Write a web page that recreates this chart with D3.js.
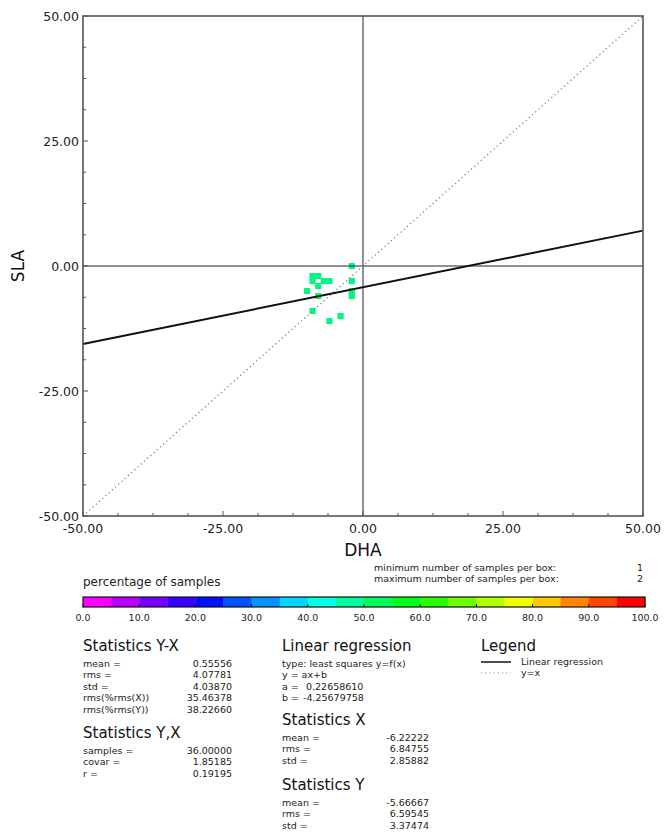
<!DOCTYPE html>
<html><head><meta charset="utf-8">
<script src="https://cdn.jsdelivr.net/npm/d3@7/dist/d3.min.js"></script>
<style>body{margin:0;background:#fff;}svg{display:block;font-family:"DejaVu Sans",Verdana,sans-serif;}</style>
</head><body>
<svg id="c" width="664" height="833"></svg>
<script>
// ---- data ----
const axisTicks = [-50, -25, 0, 25, 50];
const minorStep = 6.25;
const cellX = [-2, -9, -8, -9, -7, -6, -8, -10, -8, -2, -2, -2, -9, -6, -4];
const cellY = [0, -2, -2, -3, -3, -3, -4, -5, -6, -3, -5, -6, -9, -11, -10];
const regA = 0.22658610, regB = -4.25679758;
const pctTicks = [0, 10, 20, 30, 40, 50, 60, 70, 80, 90, 100];
const pctSegments = d3.range(20);
const statsYXLabels = ["mean =", "rms =", "std =", "rms(%rms(X))", "rms(%rms(Y))"];
const statsYXValues = ["0.55556", "4.07781", "4.03870", "35.46378", "38.22660"];
const statsCorrLabels = ["samples =", "covar =", "r ="];
const statsCorrValues = ["36.00000", "1.85185", "0.19195"];
const regLines = ["type: least squares y=f(x)", "y = ax+b"];
const regCoefLabels = ["a =", "b ="];
const regCoefValues = ["0.22658610", "-4.25679758"];
const statsXLabels = ["mean =", "rms =", "std ="];
const statsXValues = ["-6.22222", "6.84755", "2.85882"];
const statsYValues = ["-5.66667", "6.59545", "3.37474"];
const boxLabels = ["minimum number of samples per box:", "maximum number of samples per box:"];
const boxValues = ["1", "2"];
const legendItems = ["Linear regression", "y=x"];

// ---- chart ----
const svg = d3.select("#c");
const L = 83, R = 643, T = 16, B = 516;
const x = d3.scaleLinear().domain([-50, 50]).range([L, R]);
const y = d3.scaleLinear().domain([-50, 50]).range([B, T]);
const fmt = v => d3.format(".2f")(v).replace("\u2212", "-");

// cells
svg.append("g").selectAll("rect").data(cellX.map((d, i) => [d, cellY[i]])).join("rect")
  .attr("x", d => x(d[0] - 0.5) - 0.3).attr("y", d => y(d[1] + 0.5) - 0.5)
  .attr("width", d => x(d[0] + 0.5) - x(d[0] - 0.5) + 0.6)
  .attr("height", d => y(d[1] - 0.5) - y(d[1] + 0.5) + 1)
  .attr("fill", "#00f882");

// zero lines
svg.append("line").attr("x1", x(0)).attr("x2", x(0)).attr("y1", T).attr("y2", B).attr("stroke", "#222").attr("stroke-width", 1);
svg.append("line").attr("x1", L).attr("x2", R).attr("y1", y(0)).attr("y2", y(0)).attr("stroke", "#222").attr("stroke-width", 1);

// y = x dotted
svg.append("line").attr("x1", x(-50)).attr("y1", y(-50)).attr("x2", x(50)).attr("y2", y(50))
  .attr("stroke", "#888").attr("stroke-width", 1.3).attr("stroke-dasharray", "1.3,3");

// regression line
svg.append("line").attr("x1", x(-50)).attr("y1", y(regA * -50 + regB)).attr("x2", x(50)).attr("y2", y(regA * 50 + regB))
  .attr("stroke", "#111").attr("stroke-width", 2);

// frame
svg.append("rect").attr("x", L).attr("y", T).attr("width", R - L).attr("height", B - T)
  .attr("fill", "none").attr("stroke", "#555").attr("stroke-width", 1.6);

// axes ticks (inward)
const allTicks = d3.range(-50, 50.01, minorStep);
svg.append("g").selectAll("line").data(allTicks).join("line")
  .attr("x1", d => x(d)).attr("x2", d => x(d)).attr("y1", B)
  .attr("y2", d => B - (d % 25 === 0 ? 5 : 3)).attr("stroke", "#555").attr("stroke-width", 1);
svg.append("g").selectAll("line").data(allTicks).join("line")
  .attr("y1", d => y(d)).attr("y2", d => y(d)).attr("x1", L)
  .attr("x2", d => L + (d % 25 === 0 ? 5 : 3)).attr("stroke", "#555").attr("stroke-width", 1);

// tick labels
svg.append("g").selectAll("text").data(axisTicks).join("text")
  .attr("x", d => x(d)).attr("y", B + 17).attr("text-anchor", "middle")
  .attr("font-size", 12.5).attr("fill", "#222").text(d => fmt(d));
svg.append("g").selectAll("text").data(axisTicks).join("text")
  .attr("x", L - 4).attr("y", d => y(d) + 5).attr("text-anchor", "end")
  .attr("font-size", 12.5).attr("fill", "#222").text(d => fmt(d));

// axis titles
svg.append("text").attr("x", x(0)).attr("y", 556).attr("text-anchor", "middle").attr("font-size", 17).attr("fill", "#111").text("DHA");
svg.append("text").attr("transform", `translate(24,${y(0)}) rotate(-90)`).attr("text-anchor", "middle").attr("font-size", 17).attr("fill", "#111").text("SLA");

// colorbar header
svg.append("text").attr("x", L).attr("y", 586).attr("font-size", 12).attr("fill", "#222").text("percentage of samples");
svg.append("g").selectAll("text").data(boxLabels).join("text")
  .attr("x", 374).attr("y", (d, i) => 571 + i * 11).attr("font-size", 9.5).attr("fill", "#222").text(d => d);
svg.append("g").selectAll("text").data(boxValues).join("text")
  .attr("x", 643).attr("y", (d, i) => 571 + i * 11).attr("text-anchor", "end").attr("font-size", 9.5).attr("fill", "#222").text(d => d);

// colorbar
const cx = d3.scaleLinear().domain([0, 100]).range([L, 645]);
const cbT = 597, cbH = 10;
svg.append("g").selectAll("rect").data(pctSegments).join("rect")
  .attr("x", i => cx(i * 5)).attr("y", cbT).attr("width", cx(5) - cx(0) + 0.3).attr("height", cbH)
  .attr("fill", i => d3.hsl(300 * (1 - i / 19), 1, 0.5).formatHex());
svg.append("rect").attr("x", cx(0)).attr("y", cbT).attr("width", cx(100) - cx(0)).attr("height", cbH)
  .attr("fill", "none").attr("stroke", "#111").attr("stroke-width", 1.2);
svg.append("g").selectAll("line").data(pctTicks).join("line")
  .attr("x1", d => cx(d)).attr("x2", d => cx(d)).attr("y1", cbT + cbH).attr("y2", cbT + cbH - 3)
  .attr("stroke", "#111").attr("stroke-width", 1);
svg.append("g").selectAll("text").data(pctTicks).join("text")
  .attr("x", d => cx(d)).attr("y", 621).attr("text-anchor", "middle").attr("font-size", 9.5).attr("fill", "#222")
  .text(d => d.toFixed(1));

// stats blocks
function block(x0, titleY, title, labels, values, valX, lineY0) {
  svg.append("text").attr("x", x0).attr("y", titleY).attr("font-size", 15).attr("fill", "#111").text(title);
  svg.append("g").selectAll("text").data(labels).join("text")
    .attr("x", x0).attr("y", (d, i) => lineY0 + i * 11.4).attr("font-size", 9.5).attr("fill", "#222").text(d => d);
  svg.append("g").selectAll("text").data(values).join("text")
    .attr("x", valX).attr("y", (d, i) => lineY0 + i * 11.4).attr("text-anchor", "end").attr("font-size", 9.5).attr("fill", "#222").text(d => d);
}
block(83, 651, "Statistics Y-X", statsYXLabels, statsYXValues, 232, 667);
block(83, 738, "Statistics Y,X", statsCorrLabels, statsCorrValues, 232, 754);
block(282, 725, "Statistics X", statsXLabels, statsXValues, 429, 741);
block(282, 790, "Statistics Y", statsXLabels, statsYValues, 429, 806);

// linear regression block
svg.append("text").attr("x", 282).attr("y", 651).attr("font-size", 15).attr("fill", "#111").text("Linear regression");
svg.append("g").selectAll("text").data(regLines).join("text")
  .attr("x", 282).attr("y", (d, i) => 667 + i * 11.4).attr("font-size", 9.5).attr("fill", "#222").text(d => d);
svg.append("g").selectAll("text").data(regCoefLabels).join("text")
  .attr("x", 282).attr("y", (d, i) => 667 + (i + 2) * 11.4).attr("font-size", 9.5).attr("fill", "#222").text(d => d);
svg.append("g").selectAll("text").data(regCoefValues).join("text")
  .attr("x", (d, i) => i === 0 ? 306 : 303).attr("y", (d, i) => 667 + (i + 2) * 11.4).attr("font-size", 9.5).attr("fill", "#222")
  .text(d => d);

// legend
svg.append("text").attr("x", 481).attr("y", 651).attr("font-size", 15).attr("fill", "#111").text("Legend");
svg.append("line").attr("x1", 481).attr("x2", 511).attr("y1", 662).attr("y2", 662).attr("stroke", "#111").attr("stroke-width", 1.5);
svg.append("line").attr("x1", 481).attr("x2", 511).attr("y1", 673).attr("y2", 673).attr("stroke", "#888").attr("stroke-width", 1.2).attr("stroke-dasharray", "1.2,3");
svg.append("g").selectAll("text").data(legendItems).join("text")
  .attr("x", 521).attr("y", (d, i) => 665 + i * 11).attr("font-size", 9.5).attr("fill", "#222").text(d => d);
</script>
</body></html>
